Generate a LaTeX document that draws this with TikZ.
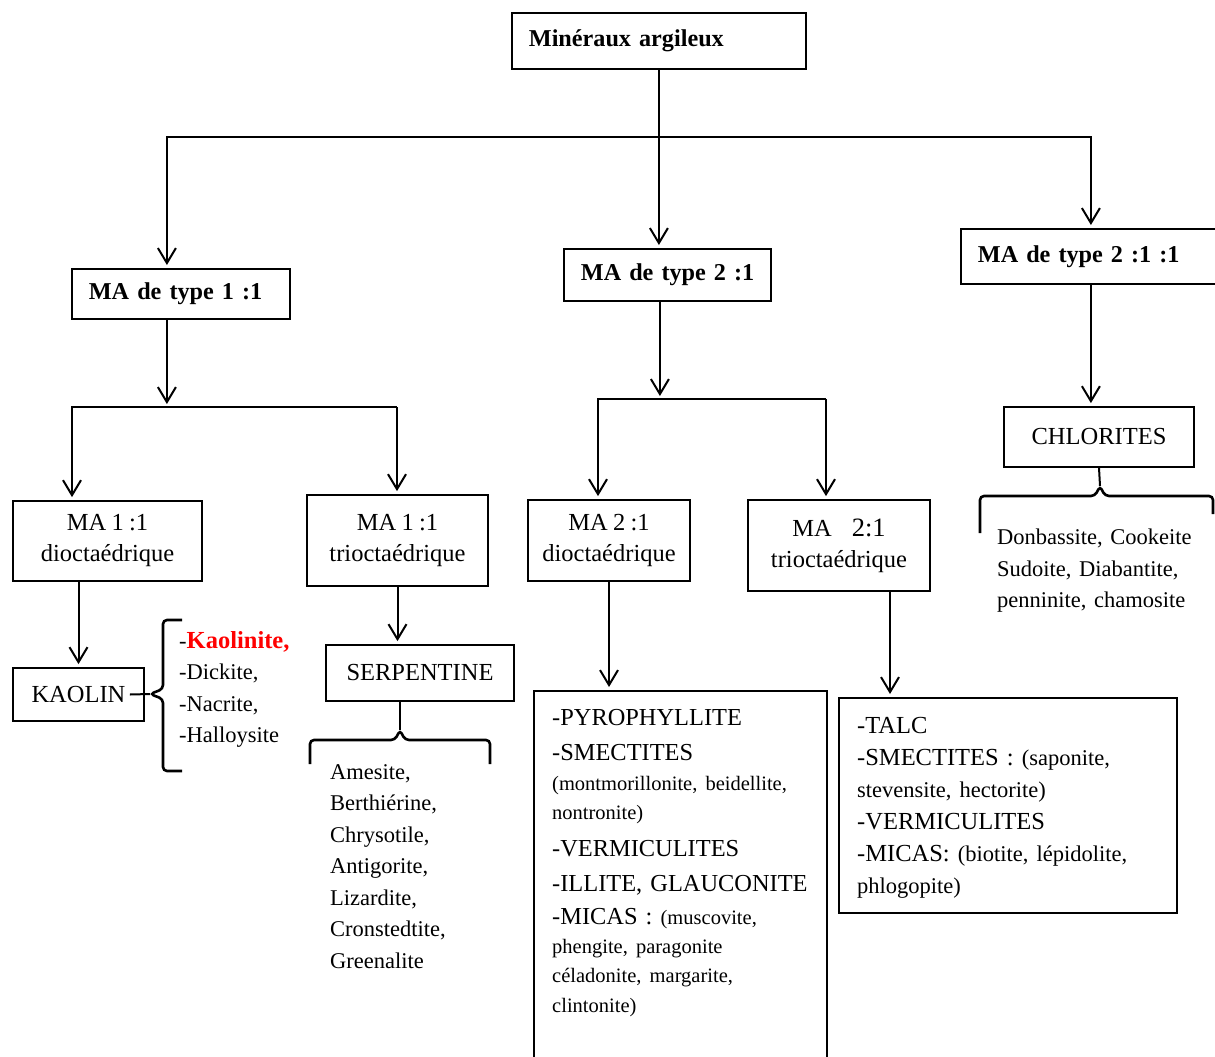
\documentclass[tikz,border=0pt]{standalone}
\usepackage{fontspec}
\setmainfont[WordSpace=0.85]{Liberation Serif}
\usetikzlibrary{arrows.meta}
\newcommand\smalltxt{\fontsize{20.5}{29}\selectfont}
\newcommand\midtxt{\fontsize{22.5}{32}\selectfont}

\begin{document}
\begin{tikzpicture}[
				x=1pt, y=-1pt,
				cell/.style={rectangle, draw, line width=1.8pt, inner sep=0pt},
				heading/.style={cell, anchor=north west, inner xsep=17pt, align=left, font=\bfseries\fontsize{24.2}{30}\selectfont},
				leaf/.style={cell, align=center, font=\fontsize{24.5}{31}\selectfont},
				listing/.style={anchor=north west, inner sep=0pt, align=left, font=\fontsize{22.5}{31.5}\selectfont},
				link/.style={draw, line width=2pt, shorten >=3pt, -{Straight Barb[length=15pt, width=18pt]}},
				rail/.style={draw, line width=2pt},
				bracket/.style={draw, line width=2.6pt, rounded corners=4pt}
				]
				\useasboundingbox (0,0) rectangle (1215,1057);
				\clip (0,0) rectangle (1215,1057);

				\node[heading, text width=260pt, minimum height=56pt] (root) at (511,12) {Minéraux~argileux};
				\node[heading, text width=184pt, minimum height=50pt] (type11) at (71,268) {MA~de~type~1~:1};
				\node[heading, text width=173pt, minimum height=52pt] (type21) at (563,248) {MA~de~type~2~:1};
				\node[heading, text width=226pt, minimum height=55pt] (type211) at (960,228) {MA~de~type~2~:1~:1};

				\node[leaf, minimum width=189pt, minimum height=80pt] (dio11) at (107.5,541) {MA 1 :1\\dioctaédrique};
				\node[leaf, minimum width=181pt, minimum height=91pt] (tri11) at (397.5,540.5) {MA 1 :1\\trioctaédrique};
				\node[leaf, minimum width=162pt, minimum height=81pt] (dio21) at (609,540.5) {MA 2 :1\\dioctaédrique};
				\node[leaf, minimum width=182pt, minimum height=91pt] (tri21) at (839,545.5) {MA\hspace{20pt}{\fontsize{26.5}{31}\selectfont 2:1}\\trioctaédrique};
				\node[leaf, minimum width=131pt, minimum height=53pt] (kaolin) at (78.5,694.5) {KAOLIN};
				\node[leaf, minimum width=188pt, minimum height=56pt] (serp) at (420,673) {SERPENTINE};
				\node[leaf, minimum width=190pt, minimum height=60pt] (chlor) at (1099,437) {CHLORITES};
				\node[cell, anchor=north west, minimum width=293pt, minimum height=420pt] (pyrobox) at (533,690) {};
				\node[cell, anchor=north west, minimum width=338pt, minimum height=215pt] (talcbox) at (838,697) {};

				\node[listing, text width=150pt] (kaolist) at (179,631) {-{\bfseries\color{red}\fontsize{24.5}{32}\selectfont Kaolinite,}\\-Dickite,\\-Nacrite,\\-Halloysite};
				\node[listing, text width=160pt] (serplist) at (330,764) {Amesite,\\Berthiérine,\\Chrysotile,\\Antigorite,\\Lizardite,\\Cronstedtite,\\Greenalite};
				\node[listing, text width=215pt] (chlorlist) at (997,529) {Donbassite, Cookeite\\Sudoite, Diabantite,\\penninite, chamosite};
				\node[listing, text width=270pt, font=\fontsize{24.4}{29}\selectfont] (pyrolist) at (552,709) {-PYROPHYLLITE\\[6pt]
					-SMECTITES\\[1pt]
					{\smalltxt (montmorillonite, beidellite,}\\
					{\smalltxt nontronite)}\\[8pt]
					-VERMICULITES\\[6pt]
					-ILLITE, GLAUCONITE\\[4pt]
					-MICAS : {\smalltxt (muscovite,}\\
					{\smalltxt phengite, paragonite}\\
					{\smalltxt céladonite, margarite,}\\[1pt]
					{\smalltxt clintonite)}};
				\node[listing, text width=310pt, font=\fontsize{24.5}{32}\selectfont] (talclist) at (857,717) {-TALC\\
					-SMECTITES : {\midtxt (saponite,}\\
					{\midtxt stevensite, hectorite)}\\
					-VERMICULITES\\
					-MICAS: {\midtxt (biotite, lépidolite,}\\
					{\midtxt phlogopite)}};

				\coordinate (split) at (root.south |- 0,137);
				\coordinate (fork1) at (72,407);
				\coordinate (fork1r) at (397,407);
				\coordinate (fork2) at (598,399);
				\coordinate (fork2r) at (826,399);
				\coordinate (ktip) at (150,694);
				\coordinate (stip) at (400,730);
				\coordinate (ctip) at (1100,486);

				\draw[link] (root.south) -- (root.south |- type21.north);
				\draw[link] (split) -| ([xshift=-14pt]type11.north);
				\draw[link] (split) -| (type211.north);

				\draw[link] ([xshift=-14pt]type11.south) -- ([xshift=-14pt]type11.south |- fork1);
				\draw[link] (fork1r) -- (fork1) -- (fork1 |- dio11.north);
				\draw[link] (fork1r) -- (fork1r |- tri11.north);

				\draw[link] ([xshift=-7.5pt]type21.south) -- ([xshift=-7.5pt]type21.south |- fork2);
				\draw[link] (fork2r) -- (fork2) -- (fork2 |- dio21.north);
				\draw[link] (fork2r) -- (fork2r |- tri21.north);

				\draw[link] (dio11.south -| kaolin.north) -- (kaolin.north);
				\draw[link] (tri11.south) -- (tri11.south |- serp.north);
				\draw[link] (dio21.south) -- (dio21.south |- pyrobox.north);
				\draw[link] ([xshift=51pt]tri21.south) -- ([xshift=51pt]tri21.south |- talcbox.north);
				\draw[link] (type211.south) -- (type211.south |- chlor.north);

				\draw[rail] ([xshift=-15pt]kaolin.east) -- (ktip);
				\draw[bracket] (182,620) -- (163,620) -- (163,689) -- (ktip) -- (163,699) -- (163,771) -- (182,771);
				\draw[rail] ([xshift=-20pt]serp.south) -- (stip);
				\draw[bracket] (310,764) -- (310,740) -- (395,740) -- (stip) -- (405,740) -- (490,740) -- (490,764);
				\draw[rail] (chlor.south) -- (ctip);
				\draw[bracket] (980,533) -- (980,496) -- (1095,496) -- (ctip) -- (1105,496) -- (1213,496) -- (1213,514);
			\end{tikzpicture}
\end{document}
